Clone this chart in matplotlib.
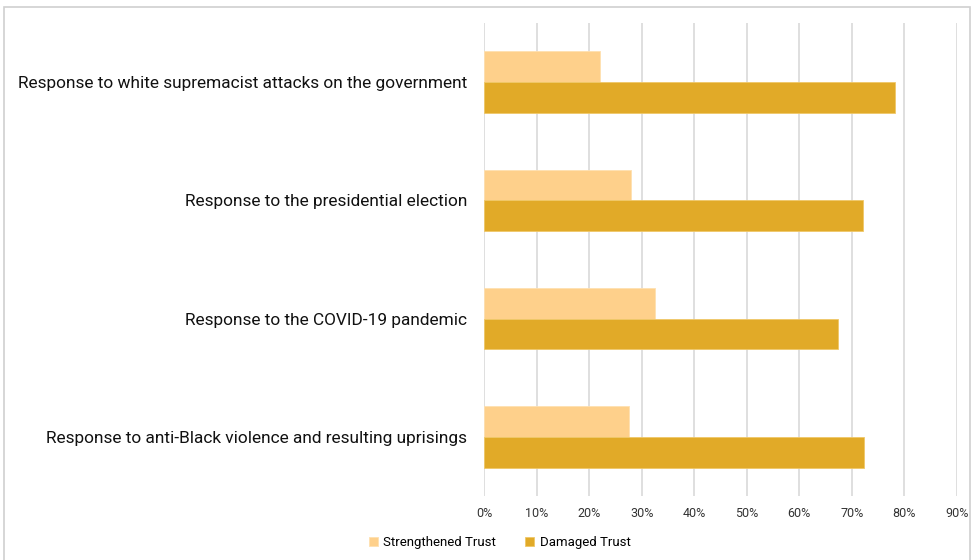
import matplotlib
matplotlib.use("Agg")
import numpy as np
import matplotlib.pyplot as plt
from matplotlib.patches import Rectangle
from matplotlib.ticker import PercentFormatter

categories = [
    "Response to white supremacist attacks on the government",
    "Response to the presidential election",
    "Response to the COVID-19 pandemic",
    "Response to anti-Black violence and resulting uprisings",
]
strengthened = [22, 28, 32.6, 27.6]
damaged = [78.2, 72.1, 67.4, 72.4]
series_names = ["Strengthened Trust", "Damaged Trust"]
xticks = list(range(0, 100, 10))

plt.rcParams["font.family"] = ["Roboto", "DejaVu Sans"]

fig = plt.figure(figsize=(9.74, 5.6), dpi=100)
ax = fig.add_axes([0.497, 0.114, 0.4855, 0.845])

y = np.arange(len(categories))
h = 0.26
ax.barh(y - h / 2, strengthened, height=h, color="#FED08B", edgecolor="#FFE0B0",
        linewidth=0.6, label=series_names[0], zorder=3)
ax.barh(y + h / 2, damaged, height=h, color="#E1AA28", edgecolor="#F0C868",
        linewidth=0.6, label=series_names[1], zorder=3)

ax.set_ylim(len(categories) - 0.5, -0.5)
ax.set_yticks(y)
ax.set_yticklabels(categories, fontsize=12.4, color="#111111")
ax.set_xlim(0, 90)
ax.set_xticks(xticks)
ax.xaxis.set_major_formatter(PercentFormatter(decimals=0))
ax.tick_params(axis="x", labelsize=9, colors="#333333", length=0, pad=8)
ax.tick_params(axis="y", length=0, pad=12)
ax.grid(axis="x", color="#d9d9d9", linewidth=1.2, zorder=0)
for s in ax.spines.values():
    s.set_visible(False)

fig.legend(loc="center", bbox_to_anchor=(0.513, 0.031), ncol=2, frameon=False,
           fontsize=9.5, handlelength=0.7, handleheight=0.7, columnspacing=2.2,
           handletextpad=0.4)

fig.patches.append(Rectangle((4 / 974, -0.01), 966 / 974, 1 - 7 / 560 + 0.01,
                             transform=fig.transFigure, fill=False,
                             edgecolor="#d0d0d0", linewidth=1.2))

fig.savefig("out.png", dpi=100)
